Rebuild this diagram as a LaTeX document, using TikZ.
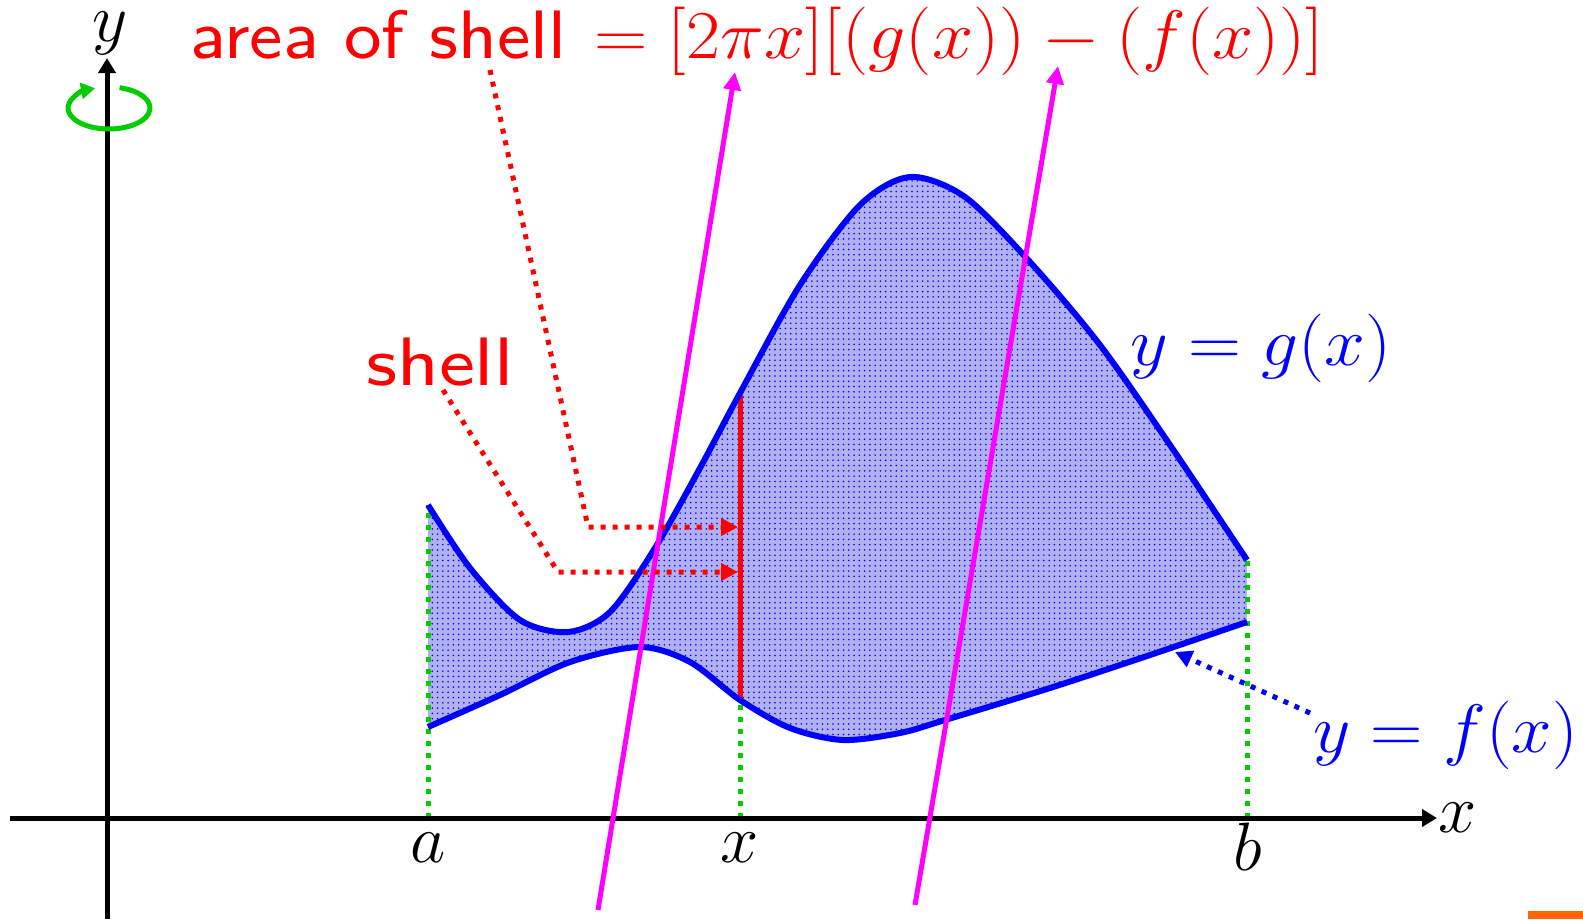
\RequirePackage{fix-cm}
\documentclass[tikz,border=0pt]{standalone}
\usepackage{amsmath,amssymb}
\usepackage{fontspec}
\usepackage{xcolor}
\usepackage{tikz}
\usetikzlibrary{arrows.meta,patterns,calc}
\newfontfamily\slidesans{lmsans8-regular.otf}
\newcommand\widen[2][1.07]{\scalebox{#1}[1]{#2}}
\definecolor{curve}{HTML}{0000FF}
\definecolor{note}{HTML}{FF0000}
\definecolor{guide}{HTML}{00CC00}
\definecolor{ray}{HTML}{FF00FF}
\definecolor{corner}{HTML}{FF6600}
\definecolor{shade}{HTML}{B0B0F2}

\begin{document}
\begin{tikzpicture}[x=0.2mm,y=-0.2mm,
  axis/.style={line width=1mm,-{Triangle[length=3mm,width=3.4mm]}},
  lbl/.style={font=\fontsize{39}{47}\selectfont,inner sep=0pt},
  fx/.style={draw=curve,line width=1.2mm},
  region/.style={preaction={fill=shade},pattern=dots,pattern color=curve},
  guideline/.style={draw=guide,line width=1mm,dash pattern=on 1mm off 1.4mm},
  raw/.style={draw=ray,line width=1mm,-{Triangle[length=3.6mm,width=3.4mm]}},
  ptr/.style={line width=1mm,dash pattern=on 1mm off 1.4mm,
              -{Triangle[length=3.4mm,width=3.4mm]}}
]
\useasboundingbox (0,0) rectangle (1583,919);

% axes
\coordinate (o) at (107,818);
\coordinate (xs) at (10,818);
\coordinate (xe) at (1437,818);
\coordinate (ys) at (107,919);
\coordinate (ye) at (107,58);

% shaded region between f and g
\path[region] plot[smooth] coordinates {(428,505) (470,568) (520,620) (568,632)
    (610,612) (655,548) (700,468) (740,393) (800,285) (860,205) (910,177)
    (965,197) (1030,262) (1100,345) (1170,445) (1247,560)}
  -- plot[smooth] coordinates {(1247,622) (1150,655) (1050,688) (945,720)
    (900,733) (843,740) (790,728) (740,700) (690,662) (640,647) (570,662)
    (500,695) (428,727)} -- cycle;

\coordinate (a) at (428,818);
\coordinate (ga) at (428,505);
\coordinate (xx) at (740,818);
\coordinate (fx) at (740,700);
\coordinate (gx) at (740,393);
\coordinate (b) at (1247,818);
\coordinate (gb) at (1247,557);
\draw[guideline] (a) -- (ga);
\draw[guideline] (xx) -- (fx);
\draw[guideline] (b) -- (gb);
\draw[note,line width=1mm] (fx) -- (gx);

\draw[fx] plot[smooth] coordinates {(428,505) (470,568) (520,620) (568,632)
    (610,612) (655,548) (700,468) (740,393) (800,285) (860,205) (910,177)
    (965,197) (1030,262) (1100,345) (1170,445) (1247,560)};
\draw[fx] plot[smooth] coordinates {(1247,622) (1150,655) (1050,688) (945,720)
    (900,733) (843,740) (790,728) (740,700) (690,662) (640,647) (570,662)
    (500,695) (428,727)};

\draw[axis] (xs) -- (xe);
\draw[axis] (ys) -- (ye);
\draw[draw=guide,line width=1mm,-{Triangle[length=2.8mm,width=3.2mm]}]
  (109,108) ++(-75:41 and 21) arc[start angle=-75,end angle=250,
  x radius=41,y radius=21];

% rays
\coordinate (r1s) at (598,910);
\coordinate (r1e) at (735,72);
\coordinate (r2s) at (915,905);
\coordinate (r2e) at (1058,66);
\draw[raw] (r1s) -- (r1e);
\draw[raw] (r2s) -- (r2e);

% labels
\node[lbl,anchor=base] (ylab) at (110,41) {$y$};
\node[lbl,anchor=base] (xlab) at (1458,832) {$x$};
\node[lbl,anchor=base] (alab) at (428,862) {$a$};
\node[lbl,anchor=base] (xxlab) at (740,862) {$x$};
\node[lbl,anchor=base] (blab) at (1248,870) {$b$};
\node[lbl,anchor=base west,text=note] (area) at (190,58)
  {\widen[1.03]{\slidesans area of shell}\hspace{1.5mm}%
   \widen[1.08]{${}= [2\pi x][(g(x)) - (f(x))]$}};
\node[lbl,anchor=base west,text=note] (shell) at (366,385)
  {\widen[1.11]{\slidesans shell}};
\node[lbl,anchor=base west,text=curve] (glab) at (1130,365)
  {\widen{$y = g(x)$}};
\node[lbl,anchor=base west,text=curve] (flab) at (1313,752)
  {\widen[1.06]{$y = f(x)$}};

% pointers
\coordinate (p1) at (490,70);
\coordinate (p1k) at (588,527);
\coordinate (p1e) at (738,527);
\coordinate (p2) at (443,390);
\coordinate (p2k) at (558,572);
\coordinate (p2e) at (738,572);
\coordinate (p3) at (1310,713);
\coordinate (p3e) at (1175,652);
\draw[ptr,note] (p1) -- (p1k) -- (p1e);
\draw[ptr,note] (p2) -- (p2k) -- (p2e);
\draw[ptr,curve] (p3) -- (p3e);

\fill[corner] (1528,911) rectangle (1583,919);
\end{tikzpicture}
\end{document}
